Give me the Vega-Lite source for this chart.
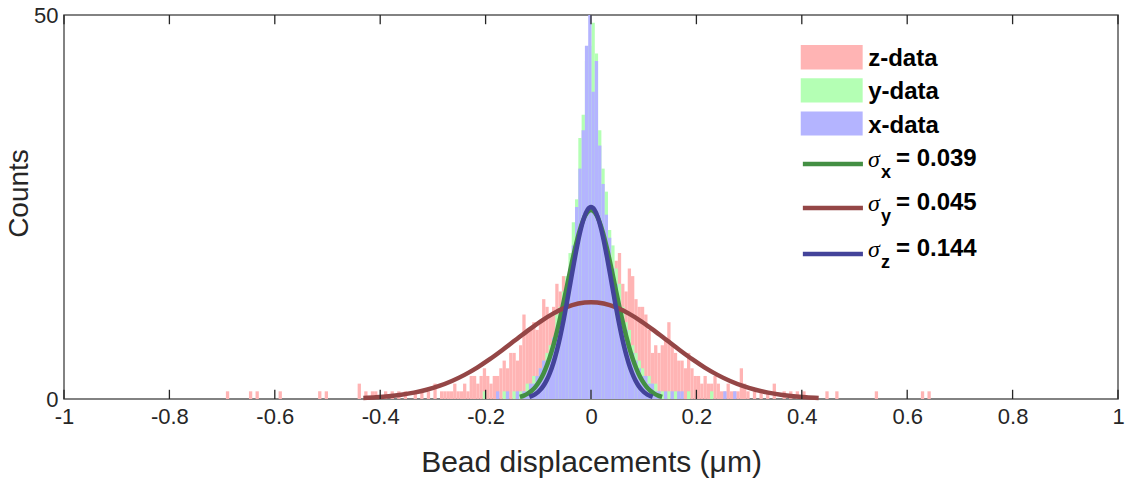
{
  "$schema": "https://vega.github.io/schema/vega-lite/v6.json",
  "width": 1054,
  "height": 384,
  "autosize": {"type": "none"},
  "padding": {"left": 64, "top": 15, "right": 9, "bottom": 90},
  "background": "white",
  "config": {
    "view": {"stroke": "#595959", "strokeWidth": 1.5},
    "font": "Liberation Sans",
    "axis": {
      "labelFont": "Liberation Sans",
      "titleFont": "Liberation Sans",
      "labelColor": "#262626",
      "titleColor": "#262626",
      "grid": false,
      "domain": false,
      "ticks": false,
      "tickSize": 0,
      "titleFontWeight": "normal",
      "labelFlush": false
    }
  },
  "datasets": {
    "hist": [
      {"set": "z-data", "start": -0.69375, "count": 1},
      {"set": "z-data", "start": -0.65, "count": 1},
      {"set": "z-data", "start": -0.6375, "count": 1},
      {"set": "z-data", "start": -0.59375, "count": 1},
      {"set": "z-data", "start": -0.51875, "count": 1},
      {"set": "z-data", "start": -0.50625, "count": 1},
      {"set": "z-data", "start": -0.44375, "count": 2},
      {"set": "z-data", "start": -0.43125, "count": 1},
      {"set": "z-data", "start": -0.41875, "count": 1},
      {"set": "z-data", "start": -0.4125, "count": 1},
      {"set": "z-data", "start": -0.39375, "count": 1},
      {"set": "z-data", "start": -0.38125, "count": 1},
      {"set": "z-data", "start": -0.36875, "count": 1},
      {"set": "z-data", "start": -0.35625, "count": 1},
      {"set": "z-data", "start": -0.3375, "count": 1},
      {"set": "z-data", "start": -0.325, "count": 1},
      {"set": "z-data", "start": -0.3125, "count": 1},
      {"set": "z-data", "start": -0.3, "count": 2},
      {"set": "z-data", "start": -0.2875, "count": 1},
      {"set": "z-data", "start": -0.28125, "count": 1},
      {"set": "z-data", "start": -0.275, "count": 1},
      {"set": "z-data", "start": -0.26875, "count": 1},
      {"set": "z-data", "start": -0.2625, "count": 2},
      {"set": "z-data", "start": -0.25625, "count": 1},
      {"set": "z-data", "start": -0.25, "count": 1},
      {"set": "z-data", "start": -0.24375, "count": 2},
      {"set": "z-data", "start": -0.2375, "count": 1},
      {"set": "z-data", "start": -0.23125, "count": 3},
      {"set": "z-data", "start": -0.225, "count": 3},
      {"set": "z-data", "start": -0.21875, "count": 2},
      {"set": "z-data", "start": -0.2125, "count": 3},
      {"set": "z-data", "start": -0.20625, "count": 4},
      {"set": "z-data", "start": -0.2, "count": 3},
      {"set": "z-data", "start": -0.19375, "count": 2},
      {"set": "z-data", "start": -0.1875, "count": 3},
      {"set": "z-data", "start": -0.18125, "count": 3},
      {"set": "z-data", "start": -0.175, "count": 4},
      {"set": "z-data", "start": -0.16875, "count": 5},
      {"set": "z-data", "start": -0.1625, "count": 4},
      {"set": "z-data", "start": -0.15625, "count": 6},
      {"set": "z-data", "start": -0.15, "count": 6},
      {"set": "z-data", "start": -0.14375, "count": 5},
      {"set": "z-data", "start": -0.1375, "count": 7},
      {"set": "z-data", "start": -0.13125, "count": 11},
      {"set": "z-data", "start": -0.125, "count": 9},
      {"set": "z-data", "start": -0.11875, "count": 9},
      {"set": "z-data", "start": -0.1125, "count": 10},
      {"set": "z-data", "start": -0.10625, "count": 9},
      {"set": "z-data", "start": -0.1, "count": 10},
      {"set": "z-data", "start": -0.09375, "count": 13},
      {"set": "z-data", "start": -0.0875, "count": 12},
      {"set": "z-data", "start": -0.08125, "count": 11},
      {"set": "z-data", "start": -0.075, "count": 12},
      {"set": "z-data", "start": -0.06875, "count": 15},
      {"set": "z-data", "start": -0.0625, "count": 14},
      {"set": "z-data", "start": -0.05625, "count": 16},
      {"set": "z-data", "start": -0.05, "count": 15},
      {"set": "z-data", "start": -0.04375, "count": 16},
      {"set": "z-data", "start": -0.0375, "count": 14},
      {"set": "z-data", "start": -0.03125, "count": 17},
      {"set": "z-data", "start": -0.025, "count": 15},
      {"set": "z-data", "start": -0.01875, "count": 16},
      {"set": "z-data", "start": -0.0125, "count": 18},
      {"set": "z-data", "start": -0.00625, "count": 15},
      {"set": "z-data", "start": 0, "count": 17},
      {"set": "z-data", "start": 0.00625, "count": 14},
      {"set": "z-data", "start": 0.0125, "count": 16},
      {"set": "z-data", "start": 0.01875, "count": 15},
      {"set": "z-data", "start": 0.025, "count": 17},
      {"set": "z-data", "start": 0.03125, "count": 14},
      {"set": "z-data", "start": 0.0375, "count": 16},
      {"set": "z-data", "start": 0.04375, "count": 18},
      {"set": "z-data", "start": 0.05, "count": 19},
      {"set": "z-data", "start": 0.05625, "count": 15},
      {"set": "z-data", "start": 0.0625, "count": 14},
      {"set": "z-data", "start": 0.06875, "count": 17},
      {"set": "z-data", "start": 0.075, "count": 16},
      {"set": "z-data", "start": 0.08125, "count": 13},
      {"set": "z-data", "start": 0.0875, "count": 12},
      {"set": "z-data", "start": 0.09375, "count": 12},
      {"set": "z-data", "start": 0.1, "count": 11},
      {"set": "z-data", "start": 0.10625, "count": 9},
      {"set": "z-data", "start": 0.1125, "count": 6},
      {"set": "z-data", "start": 0.11875, "count": 7},
      {"set": "z-data", "start": 0.125, "count": 6},
      {"set": "z-data", "start": 0.13125, "count": 7},
      {"set": "z-data", "start": 0.1375, "count": 8},
      {"set": "z-data", "start": 0.14375, "count": 10},
      {"set": "z-data", "start": 0.15, "count": 7},
      {"set": "z-data", "start": 0.15625, "count": 6},
      {"set": "z-data", "start": 0.1625, "count": 5},
      {"set": "z-data", "start": 0.16875, "count": 5},
      {"set": "z-data", "start": 0.175, "count": 4},
      {"set": "z-data", "start": 0.18125, "count": 6},
      {"set": "z-data", "start": 0.1875, "count": 4},
      {"set": "z-data", "start": 0.19375, "count": 3},
      {"set": "z-data", "start": 0.2, "count": 3},
      {"set": "z-data", "start": 0.20625, "count": 2},
      {"set": "z-data", "start": 0.2125, "count": 3},
      {"set": "z-data", "start": 0.21875, "count": 2},
      {"set": "z-data", "start": 0.225, "count": 2},
      {"set": "z-data", "start": 0.23125, "count": 3},
      {"set": "z-data", "start": 0.2375, "count": 2},
      {"set": "z-data", "start": 0.24375, "count": 1},
      {"set": "z-data", "start": 0.25, "count": 1},
      {"set": "z-data", "start": 0.25625, "count": 2},
      {"set": "z-data", "start": 0.2625, "count": 1},
      {"set": "z-data", "start": 0.26875, "count": 1},
      {"set": "z-data", "start": 0.275, "count": 1},
      {"set": "z-data", "start": 0.28125, "count": 4},
      {"set": "z-data", "start": 0.2875, "count": 2},
      {"set": "z-data", "start": 0.29375, "count": 1},
      {"set": "z-data", "start": 0.30625, "count": 1},
      {"set": "z-data", "start": 0.31875, "count": 1},
      {"set": "z-data", "start": 0.33125, "count": 1},
      {"set": "z-data", "start": 0.34375, "count": 2},
      {"set": "z-data", "start": 0.3625, "count": 1},
      {"set": "z-data", "start": 0.375, "count": 1},
      {"set": "z-data", "start": 0.3875, "count": 1},
      {"set": "z-data", "start": 0.4, "count": 1},
      {"set": "z-data", "start": 0.44375, "count": 1},
      {"set": "z-data", "start": 0.4625, "count": 1},
      {"set": "z-data", "start": 0.5375, "count": 1},
      {"set": "z-data", "start": 0.625, "count": 1},
      {"set": "z-data", "start": 0.6375, "count": 1},

      {"set": "y-data", "start": -0.20625, "count": 1},
      {"set": "y-data", "start": -0.16875, "count": 1},
      {"set": "y-data", "start": -0.15, "count": 1},
      {"set": "y-data", "start": -0.1375, "count": 1},
      {"set": "y-data", "start": -0.13125, "count": 1},
      {"set": "y-data", "start": -0.125, "count": 2},
      {"set": "y-data", "start": -0.11875, "count": 2},
      {"set": "y-data", "start": -0.1125, "count": 3},
      {"set": "y-data", "start": -0.10625, "count": 3},
      {"set": "y-data", "start": -0.1, "count": 4},
      {"set": "y-data", "start": -0.09375, "count": 5},
      {"set": "y-data", "start": -0.0875, "count": 6},
      {"set": "y-data", "start": -0.08125, "count": 7},
      {"set": "y-data", "start": -0.075, "count": 8},
      {"set": "y-data", "start": -0.06875, "count": 11},
      {"set": "y-data", "start": -0.0625, "count": 12},
      {"set": "y-data", "start": -0.05625, "count": 14},
      {"set": "y-data", "start": -0.05, "count": 16},
      {"set": "y-data", "start": -0.04375, "count": 19},
      {"set": "y-data", "start": -0.0375, "count": 23},
      {"set": "y-data", "start": -0.03125, "count": 26},
      {"set": "y-data", "start": -0.025, "count": 34},
      {"set": "y-data", "start": -0.01875, "count": 37},
      {"set": "y-data", "start": -0.0125, "count": 44},
      {"set": "y-data", "start": -0.00625, "count": 46},
      {"set": "y-data", "start": 0, "count": 49},
      {"set": "y-data", "start": 0.00625, "count": 45},
      {"set": "y-data", "start": 0.0125, "count": 35},
      {"set": "y-data", "start": 0.01875, "count": 30},
      {"set": "y-data", "start": 0.025, "count": 27},
      {"set": "y-data", "start": 0.03125, "count": 22},
      {"set": "y-data", "start": 0.0375, "count": 20},
      {"set": "y-data", "start": 0.04375, "count": 17},
      {"set": "y-data", "start": 0.05, "count": 15},
      {"set": "y-data", "start": 0.05625, "count": 12},
      {"set": "y-data", "start": 0.0625, "count": 10},
      {"set": "y-data", "start": 0.06875, "count": 9},
      {"set": "y-data", "start": 0.075, "count": 7},
      {"set": "y-data", "start": 0.08125, "count": 6},
      {"set": "y-data", "start": 0.0875, "count": 5},
      {"set": "y-data", "start": 0.09375, "count": 4},
      {"set": "y-data", "start": 0.1, "count": 3},
      {"set": "y-data", "start": 0.10625, "count": 3},
      {"set": "y-data", "start": 0.1125, "count": 2},
      {"set": "y-data", "start": 0.11875, "count": 2},
      {"set": "y-data", "start": 0.125, "count": 1},
      {"set": "y-data", "start": 0.13125, "count": 1},
      {"set": "y-data", "start": 0.14375, "count": 1},
      {"set": "y-data", "start": 0.15625, "count": 1},
      {"set": "y-data", "start": 0.18125, "count": 1},
      {"set": "y-data", "start": 0.225, "count": 1},

      {"set": "x-data", "start": -0.18125, "count": 1},
      {"set": "x-data", "start": -0.1625, "count": 1},
      {"set": "x-data", "start": -0.14375, "count": 1},
      {"set": "x-data", "start": -0.13125, "count": 1},
      {"set": "x-data", "start": -0.125, "count": 1},
      {"set": "x-data", "start": -0.11875, "count": 2},
      {"set": "x-data", "start": -0.1125, "count": 2},
      {"set": "x-data", "start": -0.10625, "count": 3},
      {"set": "x-data", "start": -0.1, "count": 4},
      {"set": "x-data", "start": -0.09375, "count": 5},
      {"set": "x-data", "start": -0.0875, "count": 5},
      {"set": "x-data", "start": -0.08125, "count": 6},
      {"set": "x-data", "start": -0.075, "count": 8},
      {"set": "x-data", "start": -0.06875, "count": 9},
      {"set": "x-data", "start": -0.0625, "count": 11},
      {"set": "x-data", "start": -0.05625, "count": 12},
      {"set": "x-data", "start": -0.05, "count": 14},
      {"set": "x-data", "start": -0.04375, "count": 17},
      {"set": "x-data", "start": -0.0375, "count": 20},
      {"set": "x-data", "start": -0.03125, "count": 25},
      {"set": "x-data", "start": -0.025, "count": 30},
      {"set": "x-data", "start": -0.01875, "count": 35},
      {"set": "x-data", "start": -0.0125, "count": 46},
      {"set": "x-data", "start": -0.00625, "count": 50},
      {"set": "x-data", "start": 0, "count": 40},
      {"set": "x-data", "start": 0.00625, "count": 44},
      {"set": "x-data", "start": 0.0125, "count": 33},
      {"set": "x-data", "start": 0.01875, "count": 28},
      {"set": "x-data", "start": 0.025, "count": 24},
      {"set": "x-data", "start": 0.03125, "count": 21},
      {"set": "x-data", "start": 0.0375, "count": 17},
      {"set": "x-data", "start": 0.04375, "count": 15},
      {"set": "x-data", "start": 0.05, "count": 12},
      {"set": "x-data", "start": 0.05625, "count": 10},
      {"set": "x-data", "start": 0.0625, "count": 9},
      {"set": "x-data", "start": 0.06875, "count": 7},
      {"set": "x-data", "start": 0.075, "count": 6},
      {"set": "x-data", "start": 0.08125, "count": 5},
      {"set": "x-data", "start": 0.0875, "count": 4},
      {"set": "x-data", "start": 0.09375, "count": 3},
      {"set": "x-data", "start": 0.1, "count": 3},
      {"set": "x-data", "start": 0.10625, "count": 2},
      {"set": "x-data", "start": 0.1125, "count": 2},
      {"set": "x-data", "start": 0.11875, "count": 1},
      {"set": "x-data", "start": 0.125, "count": 1},
      {"set": "x-data", "start": 0.1375, "count": 1},
      {"set": "x-data", "start": 0.15, "count": 1},
      {"set": "x-data", "start": 0.1625, "count": 1},
      {"set": "x-data", "start": 0.16875, "count": 1},
      {"set": "x-data", "start": 0.25, "count": 1},
      {"set": "x-data", "start": 0.26875, "count": 1}
    ],
    "fitX": [
      {"disp": -0.135, "count": 0.273}, {"disp": -0.1275, "count": 0.445}, {"disp": -0.12, "count": 0.703},
      {"disp": -0.1125, "count": 1.081}, {"disp": -0.105, "count": 1.616}, {"disp": -0.0975, "count": 2.353},
      {"disp": -0.09, "count": 3.329}, {"disp": -0.0825, "count": 4.582}, {"disp": -0.075, "count": 6.134},
      {"disp": -0.0675, "count": 7.986}, {"disp": -0.06, "count": 10.113}, {"disp": -0.0525, "count": 12.456},
      {"disp": -0.045, "count": 14.921}, {"disp": -0.0375, "count": 17.384}, {"disp": -0.03, "count": 19.698},
      {"disp": -0.0225, "count": 21.709}, {"disp": -0.015, "count": 23.271}, {"disp": -0.0075, "count": 24.261},
      {"disp": 0, "count": 24.6},
      {"disp": 0.0075, "count": 24.261}, {"disp": 0.015, "count": 23.271}, {"disp": 0.0225, "count": 21.709},
      {"disp": 0.03, "count": 19.698}, {"disp": 0.0375, "count": 17.384}, {"disp": 0.045, "count": 14.921},
      {"disp": 0.0525, "count": 12.456}, {"disp": 0.06, "count": 10.113}, {"disp": 0.0675, "count": 7.986},
      {"disp": 0.075, "count": 6.134}, {"disp": 0.0825, "count": 4.582}, {"disp": 0.09, "count": 3.329},
      {"disp": 0.0975, "count": 2.353}, {"disp": 0.105, "count": 1.616}, {"disp": 0.1125, "count": 1.081},
      {"disp": 0.12, "count": 0.703}, {"disp": 0.1275, "count": 0.445}, {"disp": 0.135, "count": 0.273}
    ],
    "fitY": [
      {"disp": -0.432, "count": 0.14}, {"disp": -0.408, "count": 0.228}, {"disp": -0.384, "count": 0.36},
      {"disp": -0.36, "count": 0.554}, {"disp": -0.336, "count": 0.828}, {"disp": -0.312, "count": 1.205},
      {"disp": -0.288, "count": 1.705}, {"disp": -0.264, "count": 2.347}, {"disp": -0.24, "count": 3.142},
      {"disp": -0.216, "count": 4.091}, {"disp": -0.192, "count": 5.18}, {"disp": -0.168, "count": 6.38},
      {"disp": -0.144, "count": 7.642}, {"disp": -0.12, "count": 8.904}, {"disp": -0.096, "count": 10.089},
      {"disp": -0.072, "count": 11.12}, {"disp": -0.048, "count": 11.919}, {"disp": -0.024, "count": 12.426},
      {"disp": 0, "count": 12.6},
      {"disp": 0.024, "count": 12.426}, {"disp": 0.048, "count": 11.919}, {"disp": 0.072, "count": 11.12},
      {"disp": 0.096, "count": 10.089}, {"disp": 0.12, "count": 8.904}, {"disp": 0.144, "count": 7.642},
      {"disp": 0.168, "count": 6.38}, {"disp": 0.192, "count": 5.18}, {"disp": 0.216, "count": 4.091},
      {"disp": 0.24, "count": 3.142}, {"disp": 0.264, "count": 2.347}, {"disp": 0.288, "count": 1.705},
      {"disp": 0.312, "count": 1.205}, {"disp": 0.336, "count": 0.828}, {"disp": 0.36, "count": 0.554},
      {"disp": 0.384, "count": 0.36}, {"disp": 0.408, "count": 0.228}, {"disp": 0.432, "count": 0.14}
    ],
    "fitZ": [
      {"disp": -0.117, "count": 0.278}, {"disp": -0.1105, "count": 0.452}, {"disp": -0.104, "count": 0.714},
      {"disp": -0.0975, "count": 1.099}, {"disp": -0.091, "count": 1.643}, {"disp": -0.0845, "count": 2.391},
      {"disp": -0.078, "count": 3.384}, {"disp": -0.0715, "count": 4.657}, {"disp": -0.065, "count": 6.234},
      {"disp": -0.0585, "count": 8.116}, {"disp": -0.052, "count": 10.278}, {"disp": -0.0455, "count": 12.658},
      {"disp": -0.039, "count": 15.163}, {"disp": -0.0325, "count": 17.666}, {"disp": -0.026, "count": 20.019},
      {"disp": -0.0195, "count": 22.063}, {"disp": -0.013, "count": 23.649}, {"disp": -0.0065, "count": 24.655},
      {"disp": 0, "count": 25},
      {"disp": 0.0065, "count": 24.655}, {"disp": 0.013, "count": 23.649}, {"disp": 0.0195, "count": 22.063},
      {"disp": 0.026, "count": 20.019}, {"disp": 0.0325, "count": 17.666}, {"disp": 0.039, "count": 15.163},
      {"disp": 0.0455, "count": 12.658}, {"disp": 0.052, "count": 10.278}, {"disp": 0.0585, "count": 8.116},
      {"disp": 0.065, "count": 6.234}, {"disp": 0.0715, "count": 4.657}, {"disp": 0.078, "count": 3.384},
      {"disp": 0.0845, "count": 2.391}, {"disp": 0.091, "count": 1.643}, {"disp": 0.0975, "count": 1.099},
      {"disp": 0.104, "count": 0.714}, {"disp": 0.1105, "count": 0.452}, {"disp": 0.117, "count": 0.278}
    ],
    "ticks": [
      {"disp": -1}, {"disp": -0.8}, {"disp": -0.6}, {"disp": -0.4}, {"disp": -0.2}, {"disp": 0},
      {"disp": 0.2}, {"disp": 0.4}, {"disp": 0.6}, {"disp": 0.8}, {"disp": 1}
    ]
  },
  "layer": [
    {
      "data": {"name": "hist"},
      "mark": {"type": "bar", "binSpacing": 0},
      "encoding": {
        "x": {
          "field": "start",
          "type": "quantitative",
          "bin": {"binned": true, "step": 0.00625},
          "scale": {"domain": [-1, 1], "nice": false, "zero": false}
        },
        "y": {
          "field": "count",
          "type": "quantitative",
          "stack": null,
          "scale": {"domain": [0, 50], "nice": false},
          "axis": {
            "orient": "left",
            "values": [0, 50],
            "labelFontSize": 22,
            "labelPadding": 6,
            "title": "Counts",
            "titleFontSize": 28,
            "titlePadding": 0,
            "titleY": 178
          }
        },
        "color": {
          "field": "set",
          "type": "nominal",
          "scale": {"domain": ["z-data", "y-data", "x-data"], "range": ["#ffb4b4", "#b4ffb4", "#b4b4ff"]},
          "legend": null
        }
      }
    },
    {
      "layer": [
        {
          "data": {"name": "fitX"},
          "mark": {"type": "line", "color": "#438f43", "strokeWidth": 4.5, "interpolate": "monotone"},
          "encoding": {
            "x": {
              "field": "disp",
              "type": "quantitative",
              "axis": {
                "orient": "bottom",
                "values": [-1, -0.8, -0.6, -0.4, -0.2, 0, 0.2, 0.4, 0.6, 0.8, 1],
                "labelExpr": "toString(datum.value)",
                "labelFontSize": 22,
                "labelPadding": 7,
                "title": "Bead displacements (μm)",
                "titleFontSize": 30,
                "titlePadding": 20
              }
            },
            "y": {"field": "count", "type": "quantitative"}
          }
        },
        {
          "data": {"name": "fitY"},
          "mark": {"type": "line", "color": "#944646", "strokeWidth": 4.5, "interpolate": "monotone"},
          "encoding": {
            "x": {"field": "disp", "type": "quantitative"},
            "y": {"field": "count", "type": "quantitative"}
          }
        },
        {
          "data": {"name": "fitZ"},
          "mark": {"type": "line", "color": "#43439a", "strokeWidth": 4.5, "interpolate": "monotone"},
          "encoding": {
            "x": {"field": "disp", "type": "quantitative"},
            "y": {"field": "count", "type": "quantitative"}
          }
        },
        {
          "data": {"name": "ticks"},
          "mark": {"type": "rule", "color": "#262626", "strokeWidth": 1.3},
          "encoding": {
            "x": {"field": "disp", "type": "quantitative"},
            "y": {"datum": 0},
            "y2": {"datum": 1.2}
          }
        },
        {
          "data": {"name": "ticks"},
          "mark": {"type": "rule", "color": "#262626", "strokeWidth": 1.3},
          "encoding": {
            "x": {"field": "disp", "type": "quantitative"},
            "y": {"datum": 50},
            "y2": {"datum": 48.8}
          }
        },
        {
          "data": {"values": [{}]},
          "mark": {"type": "rect", "color": "#ffb4b4"},
          "encoding": {
            "x": {"datum": 0.398}, "x2": {"datum": 0.5155},
            "y": {"datum": 42.9}, "y2": {"datum": 46.1}
          }
        },
        {
          "data": {"values": [{}]},
          "mark": {"type": "rect", "color": "#b4ffb4"},
          "encoding": {
            "x": {"datum": 0.398}, "x2": {"datum": 0.5155},
            "y": {"datum": 38.6}, "y2": {"datum": 41.75}
          }
        },
        {
          "data": {"values": [{}]},
          "mark": {"type": "rect", "color": "#b4b4ff"},
          "encoding": {
            "x": {"datum": 0.398}, "x2": {"datum": 0.5155},
            "y": {"datum": 34.3}, "y2": {"datum": 37.45}
          }
        },
        {
          "data": {"values": [{}]},
          "mark": {"type": "rule", "color": "#438f43", "strokeWidth": 4.5},
          "encoding": {"x": {"datum": 0.402}, "x2": {"datum": 0.516}, "y": {"datum": 30.6}}
        },
        {
          "data": {"values": [{}]},
          "mark": {"type": "rule", "color": "#944646", "strokeWidth": 4.5},
          "encoding": {"x": {"datum": 0.402}, "x2": {"datum": 0.516}, "y": {"datum": 24.87}}
        },
        {
          "data": {"values": [{}]},
          "mark": {"type": "rule", "color": "#43439a", "strokeWidth": 4.5},
          "encoding": {"x": {"datum": 0.402}, "x2": {"datum": 0.516}, "y": {"datum": 18.88}}
        },
        {
          "data": {"values": [{}]},
          "mark": {"type": "text", "text": "z-data", "align": "left", "baseline": "middle", "dy": 2, "fontSize": 24, "fontWeight": "bold", "color": "#000000"},
          "encoding": {"x": {"datum": 0.526}, "y": {"datum": 44.5}}
        },
        {
          "data": {"values": [{}]},
          "mark": {"type": "text", "text": "y-data", "align": "left", "baseline": "middle", "dy": 2, "fontSize": 24, "fontWeight": "bold", "color": "#000000"},
          "encoding": {"x": {"datum": 0.526}, "y": {"datum": 40.17}}
        },
        {
          "data": {"values": [{}]},
          "mark": {"type": "text", "text": "x-data", "align": "left", "baseline": "middle", "dy": 2, "fontSize": 24, "fontWeight": "bold", "color": "#000000"},
          "encoding": {"x": {"datum": 0.526}, "y": {"datum": 35.87}}
        },
        {
          "data": {"values": [{}]},
          "mark": {"type": "text", "text": "σ", "align": "left", "baseline": "middle", "dy": -4, "fontSize": 24, "font": "Liberation Serif", "fontStyle": "italic", "color": "#000000"},
          "encoding": {"x": {"datum": 0.5256}, "y": {"datum": 30.6}}
        },
        {
          "data": {"values": [{}]},
          "mark": {"type": "text", "text": "x", "align": "left", "baseline": "middle", "dy": 9, "fontSize": 18, "fontWeight": "bold", "color": "#000000"},
          "encoding": {"x": {"datum": 0.5503}, "y": {"datum": 30.6}}
        },
        {
          "data": {"values": [{}]},
          "mark": {"type": "text", "text": "= 0.039", "align": "left", "baseline": "middle", "dy": -5, "fontSize": 24, "fontWeight": "bold", "color": "#000000"},
          "encoding": {"x": {"datum": 0.5787}, "y": {"datum": 30.6}}
        },
        {
          "data": {"values": [{}]},
          "mark": {"type": "text", "text": "σ", "align": "left", "baseline": "middle", "dy": -4, "fontSize": 24, "font": "Liberation Serif", "fontStyle": "italic", "color": "#000000"},
          "encoding": {"x": {"datum": 0.5256}, "y": {"datum": 24.87}}
        },
        {
          "data": {"values": [{}]},
          "mark": {"type": "text", "text": "y", "align": "left", "baseline": "middle", "dy": 9, "fontSize": 18, "fontWeight": "bold", "color": "#000000"},
          "encoding": {"x": {"datum": 0.5503}, "y": {"datum": 24.87}}
        },
        {
          "data": {"values": [{}]},
          "mark": {"type": "text", "text": "= 0.045", "align": "left", "baseline": "middle", "dy": -5, "fontSize": 24, "fontWeight": "bold", "color": "#000000"},
          "encoding": {"x": {"datum": 0.5787}, "y": {"datum": 24.87}}
        },
        {
          "data": {"values": [{}]},
          "mark": {"type": "text", "text": "σ", "align": "left", "baseline": "middle", "dy": -4, "fontSize": 24, "font": "Liberation Serif", "fontStyle": "italic", "color": "#000000"},
          "encoding": {"x": {"datum": 0.5256}, "y": {"datum": 18.88}}
        },
        {
          "data": {"values": [{}]},
          "mark": {"type": "text", "text": "z", "align": "left", "baseline": "middle", "dy": 9, "fontSize": 18, "fontWeight": "bold", "color": "#000000"},
          "encoding": {"x": {"datum": 0.5503}, "y": {"datum": 18.88}}
        },
        {
          "data": {"values": [{}]},
          "mark": {"type": "text", "text": "= 0.144", "align": "left", "baseline": "middle", "dy": -5, "fontSize": 24, "fontWeight": "bold", "color": "#000000"},
          "encoding": {"x": {"datum": 0.5787}, "y": {"datum": 18.88}}
        }
      ]
    }
  ]
}
